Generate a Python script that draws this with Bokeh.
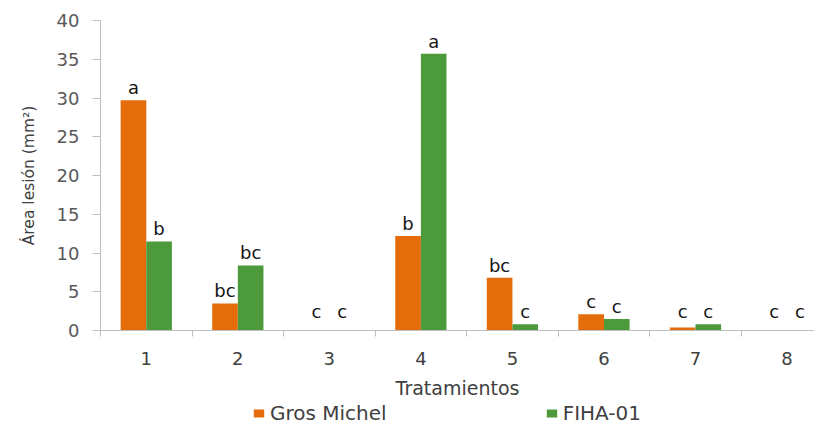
from bokeh.plotting import figure
from bokeh.layouts import column
from bokeh.models import Range1d, FixedTicker, Legend, LegendItem, ColumnDataSource
from bokeh.core.properties import value
from bokeh.embed import file_html
from bokeh.resources import INLINE

tratamientos = [1, 2, 3, 4, 5, 6, 7, 8]
gros_michel = [29.7, 3.5, 0.0, 12.2, 6.8, 2.1, 0.4, 0.0]
fiha_01 = [11.5, 8.4, 0.0, 35.7, 0.8, 1.5, 0.8, 0.0]
letras_gm = ["a", "bc", "c", "b", "bc", "c", "c", "c"]
letras_fiha = ["b", "bc", "c", "a", "c", "c", "c", "c"]
y_ticks = [0, 5, 10, 15, 20, 25, 30, 35, 40]
series_names = ["Gros Michel", "FIHA-01"]

FONT = "DejaVu Sans"
ORANGE = "#E46C0A"
GREEN = "#4C9A3C"
W = 0.28

p = figure(width=814, height=401, output_backend="svg", toolbar_location=None,
           x_range=Range1d(0.5, 8.3), y_range=Range1d(0, 40),
           min_border_left=100, min_border_top=20, min_border_right=0, min_border_bottom=71)
p.outline_line_color = None
p.xgrid.grid_line_color = None
p.ygrid.grid_line_color = None

gm_x = [t - W / 2 for t in tratamientos]
fi_x = [t + W / 2 for t in tratamientos]
src_gm = ColumnDataSource(dict(x=gm_x, top=gros_michel, lab=letras_gm,
                               ly=[max(v, 0.9) for v in gros_michel]))
src_fi = ColumnDataSource(dict(x=fi_x, top=fiha_01, lab=letras_fiha,
                               ly=[max(v, 0.9) for v in fiha_01]))

p.vbar(x="x", top="top", width=W, source=src_gm, fill_color=ORANGE, line_color=None)
p.vbar(x="x", top="top", width=W, source=src_fi, fill_color=GREEN, line_color=None)

for src in (src_gm, src_fi):
    p.text(x="x", y="ly", text="lab", source=src, text_align="center",
           text_baseline="bottom", y_offset=-2, text_font=value(FONT),
           text_font_size="18px", text_color="#151515")

# y axis
ya = p.yaxis[0]
ya.ticker = FixedTicker(ticks=y_ticks)
ya.axis_label = "Área lesión (mm²)"
ya.axis_label_text_font = FONT
ya.axis_label_text_font_size = "15.5px"
ya.axis_label_text_font_style = "normal"
ya.axis_label_text_color = "#404040"
ya.axis_label_standoff = 16
ya.major_label_text_font = FONT
ya.major_label_text_font_size = "18px"
ya.major_label_text_color = "#595959"
ya.major_label_standoff = 13
ya.major_tick_out = 8
ya.major_tick_in = 0
ya.minor_tick_line_color = None
ya.axis_line_color = "#bfbfbf"
ya.major_tick_line_color = "#bfbfbf"

# x axis
xa = p.xaxis[0]
xa.ticker = FixedTicker(ticks=tratamientos, minor_ticks=[0.5, 1.5, 2.5, 3.5, 4.5, 5.5, 6.5, 7.5])
xa.axis_label = "Tratamientos"
xa.axis_label_text_font = FONT
xa.axis_label_text_font_size = "19px"
xa.axis_label_text_font_style = "normal"
xa.axis_label_text_color = "#404040"
xa.axis_label_standoff = 9
xa.major_label_text_font = FONT
xa.major_label_text_font_size = "18px"
xa.major_label_text_color = "#404040"
xa.major_tick_line_color = None
xa.major_tick_out = 0
xa.major_tick_in = 0
xa.major_label_standoff = 15
xa.minor_tick_out = 6
xa.minor_tick_in = 0
xa.minor_tick_line_color = "#bfbfbf"
xa.axis_line_color = "#bfbfbf"

# legend in its own strip below the chart; its bars lie outside the visible range
lf = figure(width=814, height=24, output_backend="svg", toolbar_location=None,
            x_range=Range1d(-2, -1), y_range=Range1d(0, 1),
            x_axis_location=None, y_axis_location=None, min_border=0)
lf.outline_line_color = None
lf.xgrid.grid_line_color = None
lf.ygrid.grid_line_color = None
l_gm = lf.vbar(x=gm_x, top=gros_michel, width=W, fill_color=ORANGE, line_color=None)
l_fi = lf.vbar(x=fi_x, top=fiha_01, width=W, fill_color=GREEN, line_color=None)
legend = Legend(items=[LegendItem(label=series_names[0], renderers=[l_gm]),
                       LegendItem(label=series_names[1], renderers=[l_fi])],
                orientation="horizontal", location=(152, 0), spacing=158,
                glyph_width=13, glyph_height=10, label_standoff=5, padding=0, margin=0,
                border_line_color=None, background_fill_alpha=0,
                label_text_font=FONT, label_text_font_size="20px", label_text_color="#404040")
lf.add_layout(legend, "center")

open("out.html", "w").write(file_html(column(p, lf, spacing=0), INLINE))
